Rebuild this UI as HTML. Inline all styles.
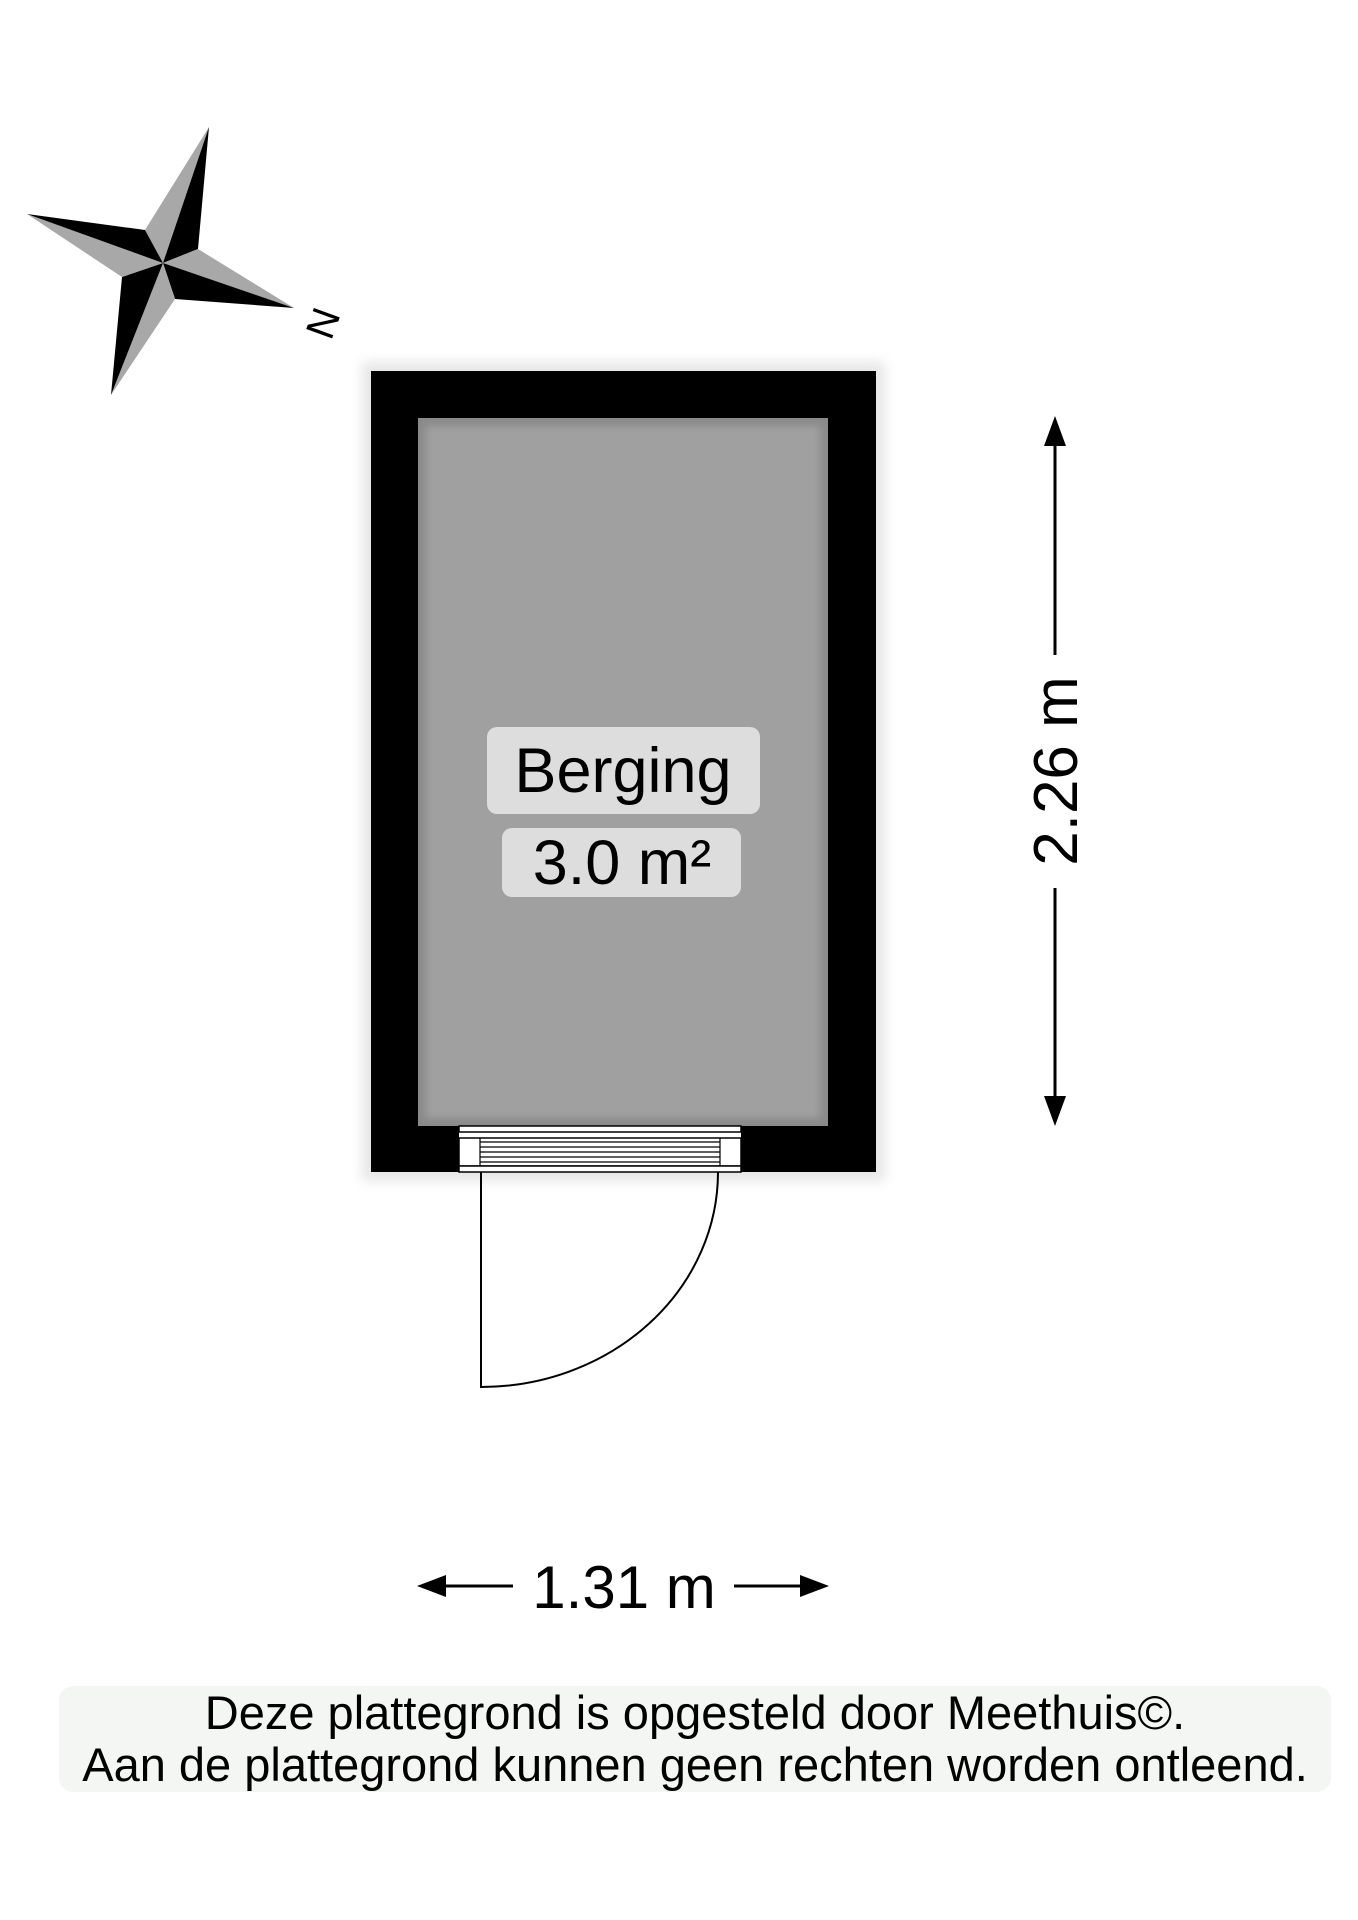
<!DOCTYPE html>
<html><head><meta charset="utf-8"><style>
body{margin:0;background:#fff;}
svg{display:block}
text{font-family:"Liberation Sans",Arial,sans-serif;}
</style></head><body>
<svg width="1358" height="1920" viewBox="0 0 1358 1920" xmlns="http://www.w3.org/2000/svg">
<defs>
<filter id="g" x="-10%" y="-10%" width="120%" height="120%"><feGaussianBlur stdDeviation="6"/></filter>
<filter id="s" x="-5%" y="-5%" width="110%" height="110%"><feGaussianBlur stdDeviation="4"/></filter>
</defs>
<rect x="362" y="362" width="523" height="819" fill="#e6e6e6" filter="url(#g)"/>
<rect x="371" y="371" width="505" height="801" fill="#000"/>
<rect x="418" y="418" width="410" height="708" fill="#8a8a8a"/>
<rect x="426" y="426" width="394" height="692" fill="#a0a0a0" filter="url(#s)"/>
<rect x="459" y="1126" width="282" height="46" fill="#fff"/>
<rect x="459" y="1126" width="282" height="6" fill="#fff" stroke="#000" stroke-width="1.5"/>
<rect x="459" y="1138" width="282" height="28" fill="#fff" stroke="#000" stroke-width="1.5"/>
<rect x="459" y="1166" width="282" height="6" fill="#fff" stroke="#000" stroke-width="1.5"/>
<g stroke="#000" stroke-width="1.2">
<line x1="480" y1="1142" x2="720" y2="1142"/><line x1="480" y1="1147" x2="720" y2="1147"/>
<line x1="480" y1="1152" x2="720" y2="1152"/><line x1="480" y1="1157" x2="720" y2="1157"/>
<line x1="480" y1="1162" x2="720" y2="1162"/>
<line x1="480" y1="1138" x2="480" y2="1166"/><line x1="720" y1="1138" x2="720" y2="1166"/>
</g>
<path d="M481 1172 L481 1387 A237 215 0 0 0 718 1172" fill="none" stroke="#000" stroke-width="2"/>
<rect x="487" y="727" width="273" height="87" rx="10" fill="#dcdddc"/>
<text x="623" y="792" font-size="63" text-anchor="middle" fill="#000">Berging</text>
<rect x="502" y="828" width="239" height="69" rx="10" fill="#dcdddc"/>
<text x="622" y="884" font-size="63" text-anchor="middle" fill="#000">3.0 m²</text>
<g stroke="#000" stroke-width="3">
<line x1="1055" y1="430" x2="1055" y2="655"/>
<line x1="1055" y1="888" x2="1055" y2="1112"/>
</g>
<polygon points="1055,416 1044,446 1066,446" fill="#000"/>
<polygon points="1055,1126 1044,1096 1066,1096" fill="#000"/>
<text transform="translate(1077,771) rotate(-90)" font-size="62" text-anchor="middle" fill="#000">2.26 m</text>
<g stroke="#000" stroke-width="3">
<line x1="430" y1="1586" x2="513" y2="1586"/>
<line x1="734" y1="1586" x2="816" y2="1586"/>
</g>
<polygon points="417,1586 446,1575 446,1597" fill="#000"/>
<polygon points="829,1586 800,1575 800,1597" fill="#000"/>
<text x="624" y="1608" font-size="60" text-anchor="middle" fill="#000">1.31 m</text>
<rect x="59" y="1686" width="1272" height="106" rx="14" fill="#f4f6f4"/>
<text x="695" y="1729" font-size="47" text-anchor="middle" fill="#000">Deze plattegrond is opgesteld door Meethuis©.</text>
<text x="695" y="1781" font-size="47" text-anchor="middle" fill="#000">Aan de plattegrond kunnen geen rechten worden ontleend.</text>
<g>
<polygon points="163,263 209,127 145,230" fill="#a8a8a8"/>
<polygon points="163,263 209,127 198,249" fill="#000"/>
<polygon points="163,263 294,308 198,249" fill="#a8a8a8"/>
<polygon points="163,263 294,308 175,299" fill="#000"/>
<polygon points="163,263 111,395 175,299" fill="#a8a8a8"/>
<polygon points="163,263 111,395 122,277" fill="#000"/>
<polygon points="163,263 27,214 122,277" fill="#a8a8a8"/>
<polygon points="163,263 27,214 145,230" fill="#000"/>
</g>
<text transform="translate(320,322) rotate(110)" font-size="40" text-anchor="middle" dominant-baseline="middle" fill="#000">N</text>
</svg>
</body></html>
